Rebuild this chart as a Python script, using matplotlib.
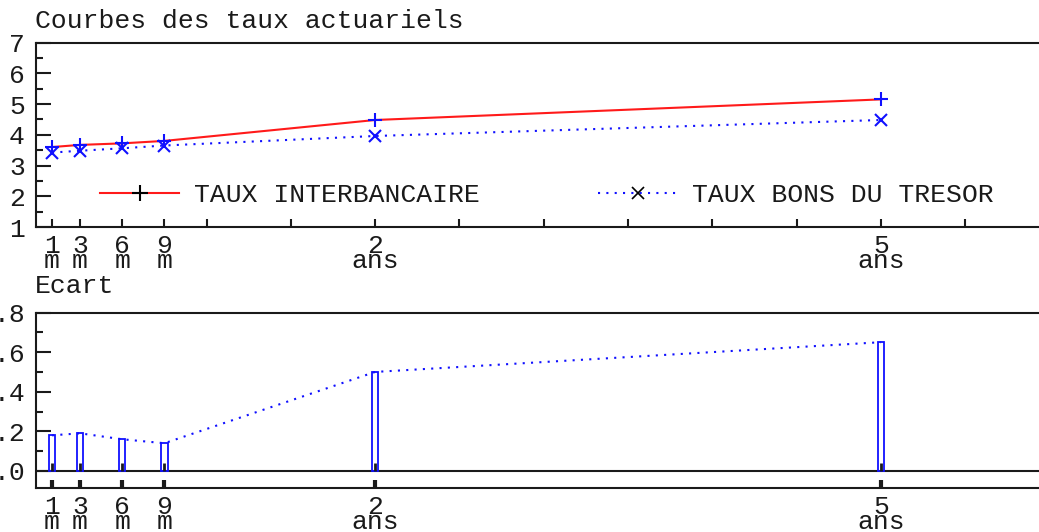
#!/usr/bin/env python3
"""
Courbes des taux actuariels : taux interbancaire, bons du tresor et ecart
"""
import matplotlib
matplotlib.use("Agg")
import matplotlib.pyplot as plt
from matplotlib.lines import Line2D
from matplotlib.ticker import MultipleLocator, FixedLocator

# donnees (echeances en mois)
echeances = [1, 3, 6, 9, 24, 60]
etiquettes = ["1\nm", "3\nm", "6\nm", "9\nm", "2\nans", "5\nans"]
taux_interbancaire = [3.60, 3.67, 3.72, 3.80, 4.48, 5.15]
taux_bons_tresor = [3.42, 3.48, 3.56, 3.65, 3.96, 4.48]
ecart = [0.18, 0.19, 0.16, 0.14, 0.50, 0.65]

ROUGE = "#ff1a1a"
BLEU = "#1010ff"
NOIR = "#1a1a1a"
POLICE = ["Liberation Mono", "DejaVu Sans Mono"]

W, H = 1039, 532
PX_MOIS = 14.05


def axes_px(fig, gauche, haut, droite, bas):
    " cree des axes a partir d'une boite en pixels "
    return fig.add_axes([gauche / W, 1 - bas / H, (droite - gauche) / W, (bas - haut) / H])


def style_axes(ax):
    for cote in ("top", "bottom", "left", "right"):
        ax.spines[cote].set_linewidth(1.5)
        ax.spines[cote].set_color(NOIR)
    ax.tick_params(axis="y", which="major", direction="in", length=10.8, width=1.5,
                   pad=8, colors=NOIR, labelsize=19)
    ax.tick_params(axis="y", which="minor", direction="in", length=5, width=1.5, colors=NOIR)
    ax.set_xticks(echeances)
    ax.set_xticklabels(etiquettes, linespacing=0.55)


def main():
    plt.rcParams["font.family"] = POLICE
    plt.rcParams["font.size"] = 19
    plt.rcParams["text.color"] = NOIR

    fig = plt.figure(figsize=(W / 100, H / 100), dpi=100)
    xmin, xmax = -0.14, 72
    droite = 36 + (xmax - xmin) * PX_MOIS

    # ---- courbes des taux
    ax1 = axes_px(fig, 36, 42.5, droite, 227)
    ax1.plot(echeances, taux_interbancaire, color=ROUGE, lw=1.5, zorder=2)
    ax1.plot(echeances, taux_bons_tresor, color=BLEU, lw=1.5, ls=(0, (1, 3)), zorder=2)
    ax1.plot(echeances, taux_interbancaire, ls="none", marker="+", ms=10, mew=1.5,
             color=BLEU, zorder=3)
    ax1.plot(echeances, taux_bons_tresor, ls="none", marker="x", ms=8, mew=1.5,
             color=BLEU, zorder=3)
    ax1.set_xlim(xmin, xmax)
    ax1.set_ylim(1, 7)
    ax1.yaxis.set_major_locator(MultipleLocator(1))
    ax1.yaxis.set_minor_locator(MultipleLocator(0.5))
    ax1.xaxis.set_minor_locator(FixedLocator([m for m in range(12, 72, 6) if m not in echeances]))
    style_axes(ax1)
    ax1.tick_params(axis="x", which="both", direction="in", length=5.8, width=1.5,
                    pad=5, colors=NOIR, labelsize=19)

    poignees = [
        Line2D([], [], color=ROUGE, lw=1.5, marker="+", ms=11, mew=1.5, mec="black"),
        Line2D([], [], color=BLEU, lw=1.5, ls=(0, (1, 3)), marker="x", ms=8, mew=1.2, mec="black"),
    ]
    ax1.legend(poignees, ["TAUX INTERBANCAIRE", "TAUX BONS DU TRESOR"], ncol=2,
               loc="center left", bbox_to_anchor=(64 / (droite - 36), 0.173),
               frameon=False, borderpad=0, borderaxespad=0, handlelength=3.0,
               handletextpad=0.55, columnspacing=4.5, numpoints=1, fontsize=19)

    fig.text(35 / W, 1 - 28 / H, "Courbes des taux actuariels", ha="left", va="baseline",
             fontsize=19)

    # ---- ecart
    ax2 = axes_px(fig, 36, 312.5, droite, 488)
    ax2.bar(echeances, ecart, width=0.45, facecolor="none", edgecolor=BLEU, lw=1.3, zorder=2)
    ax2.plot(echeances, ecart, color=BLEU, lw=1.5, ls=(0, (1, 3)), zorder=2)
    ax2.axhline(0, color=NOIR, lw=1.5, zorder=1)
    ax2.vlines(echeances, 0, 0.04, color=NOIR, lw=2, zorder=3)
    ax2.set_xlim(xmin, xmax)
    ax2.set_ylim(-0.086, 0.8)
    ax2.yaxis.set_major_locator(FixedLocator([0, 0.2, 0.4, 0.6, 0.8]))
    ax2.yaxis.set_minor_locator(FixedLocator([0.1, 0.3, 0.5, 0.7]))
    style_axes(ax2)
    ax2.set_yticklabels([".0", ".2", ".4", ".6", ".8"])
    ax2.tick_params(axis="x", which="major", direction="in", length=6, width=3,
                    pad=5, colors=NOIR, labelsize=19)

    fig.text(35 / W, 1 - 293 / H, "Ecart", ha="left", va="baseline", fontsize=19)

    fig.savefig("out.png", dpi=100)


if __name__ == "__main__":
    main()
